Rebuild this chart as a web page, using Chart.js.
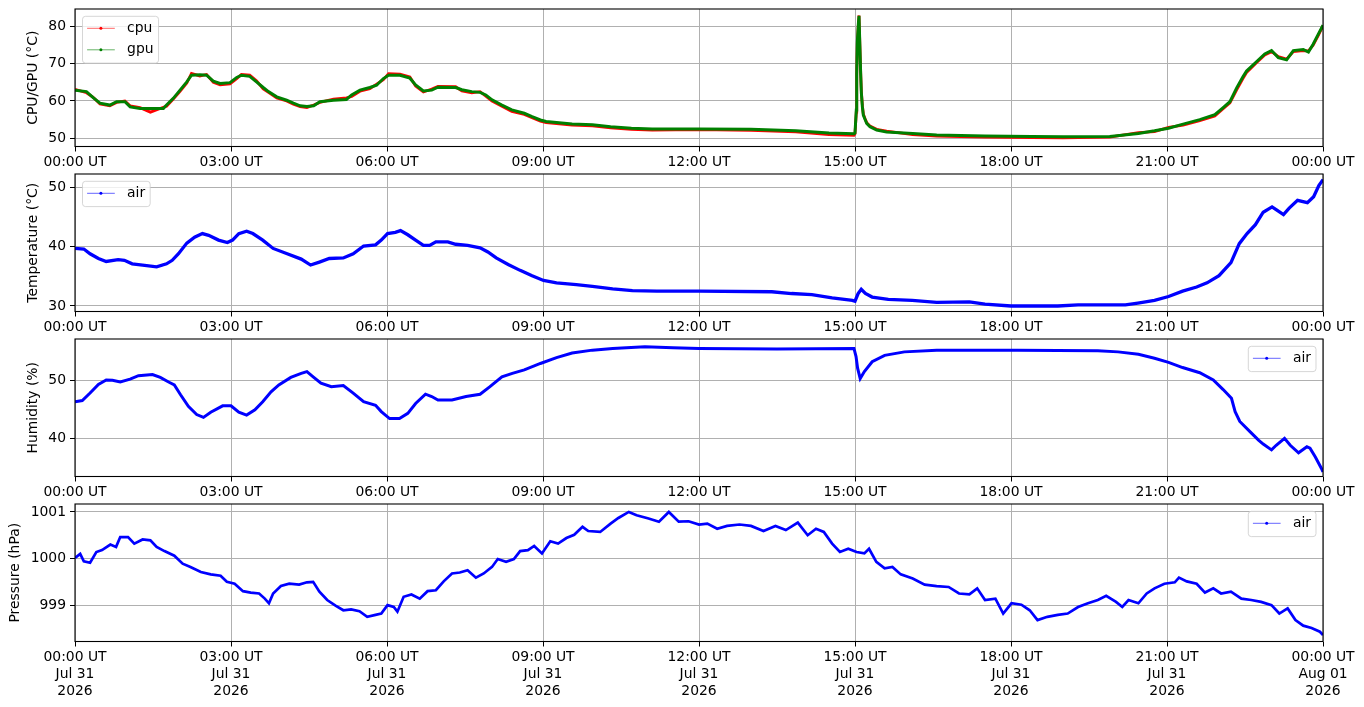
<!DOCTYPE html>
<html>
<head>
<meta charset="utf-8">
<script src="https://cdn.jsdelivr.net/npm/chart.js@4.4.1/dist/chart.umd.min.js"></script>
<style>
html,body{margin:0;padding:0;background:#fff;}
#wrap{position:relative;width:1364px;height:707px;overflow:hidden;background:#fff;}
#wrap canvas{position:absolute;left:0;top:0;}
</style>
</head>
<body>
<div id="wrap">
<canvas id="c0" width="1364" height="707"></canvas>
<canvas id="c1" width="1364" height="707"></canvas>
<canvas id="c2" width="1364" height="707"></canvas>
<canvas id="c3" width="1364" height="707"></canvas>
</div>
<script>
// ---------------- DATA ----------------
// x tick labels
const tickHours = [0, 3, 6, 9, 12, 15, 18, 21, 24];
const tickTimes = ['00:00 UT','03:00 UT','06:00 UT','09:00 UT','12:00 UT','15:00 UT','18:00 UT','21:00 UT','00:00 UT'];
const tickDates = ['Jul 31','Jul 31','Jul 31','Jul 31','Jul 31','Jul 31','Jul 31','Jul 31','Aug 01'];
const tickYears = ['2026','2026','2026','2026','2026','2026','2026','2026','2026'];

// CPU / GPU temperatures (hours since 00:00 UT)
const cgHours = [
  0.00,0.22,0.35,0.48,0.67,0.80,0.96,1.06,1.25,1.45,
  1.70,1.76,1.89,2.02,2.15,2.24,2.40,2.53,2.66,2.79,
  2.98,3.11,3.20,3.36,3.49,3.62,3.72,3.88,4.07,4.20,
  4.33,4.46,4.59,4.71,4.97,5.22,5.32,5.48,5.67,5.80,
  5.93,6.03,6.25,6.44,6.55,6.70,6.86,6.98,7.32,7.44,
  7.63,7.79,7.90,8.02,8.21,8.40,8.64,8.79,8.95,9.06,
  9.26,9.56,9.95,10.30,10.70,11.10,12.00,13.00,13.86,14.50,
  14.98,15.000,15.025,15.033,15.045,15.065,15.077,15.110,15.122,15.142,
  15.160,15.192,15.225,15.288,15.417,15.608,16.11,16.57,17.50,18.40,
  19.00,19.90,20.45,20.76,21.03,21.31,21.63,21.92,22.08,22.21,
  22.34,22.46,22.53,22.72,22.88,23.01,23.14,23.30,23.43,23.62,
  23.72,23.81,23.91,24.00
];
const gpuTemp = [
  62.9,62.5,60.9,59.4,58.9,59.8,59.8,58.4,58.0,58.0,
  58.0,58.9,60.7,62.9,65.1,66.9,67.0,66.9,65.3,64.7,
  64.9,66.3,66.9,66.6,65.1,63.6,62.5,61.1,60.2,59.4,
  58.7,58.5,58.7,59.8,60.2,60.4,61.6,62.9,63.6,64.2,
  66.0,66.9,66.9,66.1,64.3,62.7,62.9,63.7,63.6,63.0,
  62.5,62.3,61.6,60.3,58.9,57.6,56.7,55.8,54.9,54.5,
  54.2,53.8,53.6,53.1,52.7,52.5,52.5,52.4,52.0,51.4,
  51.2,51.4,57.6,67.2,75.9,80.8,82.8,66.9,62.2,58.4,
  56.2,55.1,54.0,53.1,52.2,51.7,51.3,50.9,50.6,50.5,
  50.4,50.5,51.3,52.0,52.7,53.8,55.0,56.3,58.2,59.8,
  63.5,66.5,68.0,70.5,72.6,73.5,71.6,71.0,73.5,73.8,
  73.1,75.2,77.9,80.3
];
const cpuTemp = [
  63.1,62.2,61.0,59.2,58.7,59.6,60.0,58.7,58.2,57.0,
  58.3,58.6,60.5,62.6,64.8,67.4,66.7,67.1,65.0,64.3,
  64.6,66.0,67.1,66.9,65.4,63.2,62.3,60.8,60.0,59.1,
  58.5,58.2,58.9,59.6,60.5,60.8,61.2,62.6,63.3,64.5,
  65.7,67.3,67.2,66.4,64.0,62.4,63.2,63.9,63.8,62.7,
  62.2,62.5,61.3,60.0,58.6,57.2,56.4,55.5,54.6,54.2,
  53.9,53.5,53.3,52.8,52.4,52.2,52.3,52.1,51.7,51.0,
  50.8,51.2,57.0,66.8,75.5,80.5,82.9,67.3,62.6,58.8,
  56.5,55.3,54.2,53.3,52.4,51.9,51.0,50.6,50.3,50.2,
  50.1,50.3,51.5,51.8,52.9,53.5,54.7,56.0,57.9,59.5,
  63.0,66.0,67.6,70.2,72.3,73.2,71.9,71.2,73.2,73.5,
  73.4,74.9,77.6,80.1
];

// Air temperature
const tempHours = [
  0.00,0.17,0.29,0.45,0.60,0.83,0.95,1.10,1.30,1.57,
  1.76,1.87,1.99,2.15,2.30,2.45,2.57,2.76,2.93,3.03,
  3.15,3.30,3.42,3.61,3.81,4.08,4.35,4.53,4.70,4.89,
  5.16,5.35,5.55,5.78,5.89,6.01,6.16,6.26,6.40,6.55,
  6.70,6.82,6.94,7.17,7.32,7.55,7.79,7.94,8.10,8.33,
  8.56,8.79,9.01,9.26,9.64,9.95,10.34,10.72,11.19,12.00,
  13.40,13.78,14.17,14.56,14.95,15.00,15.06,15.12,15.20,15.33,
  15.64,16.10,16.57,17.20,17.50,18.00,18.90,19.29,20.20,20.44,
  20.76,21.03,21.30,21.57,21.77,22.00,22.23,22.39,22.54,22.70,
  22.85,23.02,23.12,23.24,23.35,23.51,23.70,23.82,23.92,24.00
];
const airTemp = [
  39.7,39.6,38.8,38.0,37.5,37.8,37.7,37.1,36.9,36.6,
  37.1,37.7,38.8,40.6,41.6,42.2,41.9,41.1,40.7,41.1,
  42.2,42.6,42.2,41.1,39.7,38.8,37.9,36.9,37.4,38.0,
  38.1,38.8,40.1,40.3,41.1,42.2,42.4,42.7,42.0,41.1,
  40.2,40.2,40.8,40.8,40.4,40.2,39.8,39.1,38.1,37.0,
  36.0,35.1,34.3,33.9,33.6,33.3,32.9,32.6,32.5,32.5,
  32.4,32.1,31.9,31.35,30.95,30.8,32.1,32.8,32.1,31.5,
  31.1,30.95,30.6,30.7,30.3,30.0,30.0,30.2,30.2,30.5,
  30.95,31.6,32.5,33.2,33.9,35.1,37.3,40.5,42.2,43.7,
  45.8,46.7,46.1,45.4,46.5,47.8,47.4,48.4,50.3,51.3
];

// Air humidity
const humHours = [
  0.00,0.14,0.29,0.45,0.60,0.72,0.87,1.06,1.22,1.49,
  1.64,1.80,1.91,2.03,2.18,2.34,2.47,2.61,2.84,3.00,
  3.15,3.30,3.46,3.61,3.77,3.92,4.15,4.35,4.46,4.58,
  4.73,4.93,5.16,5.35,5.55,5.78,5.89,6.05,6.24,6.40,
  6.55,6.74,6.86,6.98,7.25,7.52,7.79,7.98,8.21,8.41,
  8.64,8.95,9.26,9.56,9.95,10.34,10.96,11.50,12.00,13.50,
  14.98,15.02,15.05,15.10,15.18,15.33,15.57,15.95,16.57,18.12,
  19.67,20.06,20.45,20.76,21.03,21.30,21.63,21.89,22.08,22.24,
  22.31,22.40,22.60,22.76,22.85,23.01,23.10,23.26,23.37,23.53,
  23.69,23.75,23.85,23.97,24.00
];
const airHumidity = [
  46.3,46.5,47.8,49.3,50.05,50.0,49.7,50.2,50.8,51.0,
  50.5,49.7,49.2,47.5,45.5,44.1,43.6,44.5,45.6,45.6,
  44.5,44.0,44.9,46.3,48.0,49.2,50.5,51.2,51.5,50.6,
  49.5,48.9,49.1,47.8,46.3,45.7,44.6,43.4,43.4,44.3,
  46.0,47.6,47.2,46.6,46.6,47.2,47.6,48.9,50.6,51.2,
  51.8,52.9,53.9,54.7,55.2,55.5,55.8,55.6,55.5,55.4,
  55.5,54.1,52.1,50.3,51.5,53.2,54.3,54.9,55.2,55.2,
  55.1,54.9,54.5,53.8,53.1,52.2,51.3,50.05,48.4,46.9,
  44.6,42.9,41.1,39.7,39.0,38.0,38.8,40.0,38.8,37.5,
  38.55,38.3,36.8,34.8,34.2
];

// Air pressure
const presHours = [
  0.00,0.10,0.17,0.29,0.41,0.52,0.68,0.79,0.87,1.02,
  1.14,1.30,1.45,1.57,1.72,1.91,2.07,2.22,2.42,2.61,
  2.80,2.92,3.07,3.23,3.38,3.54,3.65,3.73,3.81,3.96,
  4.12,4.31,4.46,4.58,4.70,4.85,5.01,5.16,5.31,5.47,
  5.62,5.78,5.89,6.01,6.13,6.20,6.32,6.47,6.63,6.78,
  6.94,7.09,7.25,7.40,7.55,7.71,7.86,8.02,8.13,8.29,
  8.44,8.56,8.71,8.83,8.98,9.14,9.29,9.45,9.60,9.76,
  9.87,10.10,10.30,10.45,10.65,10.80,11.03,11.23,11.42,11.61,
  11.80,12.00,12.16,12.35,12.54,12.78,13.00,13.24,13.47,13.67,
  13.90,14.09,14.25,14.40,14.56,14.71,14.87,15.03,15.18,15.27,
  15.41,15.57,15.72,15.88,16.11,16.34,16.57,16.80,17.00,17.20,
  17.35,17.50,17.70,17.85,18.01,18.20,18.36,18.51,18.70,18.90,
  19.09,19.29,19.48,19.67,19.83,20.02,20.14,20.26,20.45,20.61,
  20.76,20.95,21.15,21.23,21.38,21.57,21.73,21.89,22.04,22.23,
  22.43,22.62,22.81,23.01,23.16,23.32,23.47,23.62,23.78,23.94,
  24.00
];
const airPressure = [
  1000.01,1000.10,999.94,999.91,1000.14,1000.18,1000.30,1000.25,1000.46,1000.46,
  1000.32,1000.41,1000.39,1000.25,1000.16,1000.06,999.89,999.82,999.71,999.66,
  999.63,999.50,999.46,999.30,999.27,999.25,999.14,999.04,999.25,999.41,
  999.46,999.44,999.49,999.50,999.29,999.11,998.99,998.89,998.91,998.87,
  998.75,998.79,998.82,999.00,998.96,998.86,999.18,999.23,999.14,999.30,
  999.32,999.51,999.68,999.70,999.75,999.59,999.68,999.82,999.99,999.93,
  999.99,1000.16,1000.18,1000.27,1000.11,1000.37,1000.32,1000.44,1000.51,1000.68,
  1000.59,1000.57,1000.75,1000.87,1001.00,1000.93,1000.86,1000.79,1001.00,1000.79,
  1000.80,1000.73,1000.75,1000.64,1000.70,1000.73,1000.70,1000.59,1000.70,1000.61,
  1000.77,1000.50,1000.64,1000.57,1000.32,1000.14,1000.21,1000.14,1000.11,1000.21,
  999.93,999.79,999.82,999.66,999.57,999.44,999.41,999.39,999.25,999.23,
  999.36,999.11,999.14,998.82,999.04,999.01,998.89,998.68,998.75,998.79,
  998.82,998.96,999.04,999.11,999.20,999.07,998.96,999.11,999.04,999.25,
  999.36,999.46,999.49,999.59,999.51,999.46,999.27,999.36,999.25,999.29,
  999.14,999.11,999.07,999.00,998.82,998.93,998.68,998.56,998.51,998.43,
  998.36
];

// ---------------- RENDERING ----------------
const FONT = '"DejaVu Sans", "Liberation Sans", sans-serif';
const FS = 13.9;
Chart.defaults.font.family = FONT;
Chart.defaults.font.size = FS;
Chart.defaults.color = '#000';

function pts(xs, ys) { return xs.map((x, i) => ({ x: x, y: ys[i] })); }

const mplPlugin = {
  id: 'mpl',
  afterDraw(chart, args, opts) {
    const ctx = chart.ctx, a = chart.chartArea;
    ctx.save();
    // full axes frame
    ctx.strokeStyle = '#000';
    ctx.lineWidth = 1.1;
    ctx.strokeRect(a.left, a.top, a.right - a.left, a.bottom - a.top);
    // legend
    const items = opts.items || [];
    ctx.font = FS + 'px ' + FONT;
    let tw = 0;
    items.forEach(it => { tw = Math.max(tw, ctx.measureText(it.label).width); });
    const boxW = 44.6 + tw + 5;
    const rowH = 21.5;
    const boxH = 3.8 + items.length * rowH;
    const bx = opts.corner === 'right' ? a.right - 7 - boxW : a.left + 7.5;
    const by = a.top + 7.3;
    const r = 3;
    ctx.beginPath();
    ctx.moveTo(bx + r, by);
    ctx.lineTo(bx + boxW - r, by);
    ctx.arcTo(bx + boxW, by, bx + boxW, by + r, r);
    ctx.lineTo(bx + boxW, by + boxH - r);
    ctx.arcTo(bx + boxW, by + boxH, bx + boxW - r, by + boxH, r);
    ctx.lineTo(bx + r, by + boxH);
    ctx.arcTo(bx, by + boxH, bx, by + boxH - r, r);
    ctx.lineTo(bx, by + r);
    ctx.arcTo(bx, by, bx + r, by, r);
    ctx.closePath();
    ctx.fillStyle = 'rgba(255,255,255,0.8)';
    ctx.fill();
    ctx.strokeStyle = 'rgba(204,204,204,0.8)';
    ctx.lineWidth = 1;
    ctx.stroke();
    items.forEach((it, i) => {
      const cy = by + 12 + i * rowH;
      ctx.globalAlpha = 0.6;
      ctx.strokeStyle = it.color;
      ctx.lineWidth = 1;
      ctx.beginPath();
      ctx.moveTo(bx + 4.6, cy);
      ctx.lineTo(bx + 32.3, cy);
      ctx.stroke();
      ctx.globalAlpha = 1;
      ctx.fillStyle = it.color;
      ctx.beginPath();
      ctx.arc(bx + 18.4, cy, 1.5, 0, Math.PI * 2);
      ctx.fill();
      ctx.fillStyle = '#000';
      ctx.textBaseline = 'middle';
      ctx.textAlign = 'left';
      ctx.fillText(it.label, bx + 44.6, cy);
    });
    ctx.restore();
  }
};

const PANEL_H = 137.5;
const panels = [
  { id: 'c0', top: 9, yMin: 47.80, yMax: 84.63, yStep: 10, yTitle: 'CPU/GPU (°C)', titlePad: 25.5,
    xh: 30, dates: false, corner: 'left',
    legend: [{ label: 'cpu', color: '#ff0000' }, { label: 'gpu', color: '#008000' }],
    datasets: [
      { data: pts(cgHours, cpuTemp), borderColor: '#ff0000', borderWidth: 2.8, order: 1 },
      { data: pts(cgHours, gpuTemp), borderColor: '#008000', borderWidth: 3.0, order: 0 }
    ] },
  { id: 'c1', top: 174, yMin: 29.07, yMax: 52.24, yStep: 10, yTitle: 'Temperature (°C)', titlePad: 25.5,
    xh: 30, dates: false, corner: 'left',
    legend: [{ label: 'air', color: '#0000ff' }],
    datasets: [{ data: pts(tempHours, airTemp), borderColor: '#0000ff', borderWidth: 3.3 }] },
  { id: 'c2', top: 339, yMin: 33.41, yMax: 57.12, yStep: 10, yTitle: 'Humidity (%)', titlePad: 25.5,
    xh: 30, dates: false, corner: 'right',
    legend: [{ label: 'air', color: '#0000ff' }],
    datasets: [{ data: pts(humHours, airHumidity), borderColor: '#0000ff', borderWidth: 3.0 }] },
  { id: 'c3', top: 504, yMin: 998.22, yMax: 1001.17, yStep: 1, yTitle: 'Pressure (hPa)', titlePad: 7.5,
    xh: 60, dates: true, corner: 'right',
    legend: [{ label: 'air', color: '#0000ff' }],
    datasets: [{ data: pts(presHours, airPressure), borderColor: '#0000ff', borderWidth: 2.7 }] }
];

panels.forEach(p => {
  const bottom = p.top + PANEL_H;
  p.datasets.forEach(d => { d.pointRadius = 0; d.fill = false; d.tension = 0; });
  new Chart(document.getElementById(p.id), {
    type: 'line',
    data: { datasets: p.datasets },
    options: {
      responsive: false,
      animation: false,
      events: [],
      layout: { padding: { left: 0, right: 41, top: p.top, bottom: 707 - bottom - p.xh } },
      plugins: {
        legend: { display: false },
        tooltip: { enabled: false },
        mpl: { items: p.legend, corner: p.corner }
      },
      scales: {
        x: {
          type: 'linear', min: 0, max: 24,
          afterFit(s) { s.height = p.xh; s.paddingLeft = 0; s.paddingRight = 0; },
          grid: { color: '#b0b0b0', lineWidth: 1, tickColor: '#000', tickLength: 5, tickWidth: 1 },
          border: { display: false },
          ticks: {
            stepSize: 3, autoSkip: false, maxRotation: 0, minRotation: 0, padding: 3,
            color: '#000', font: { family: FONT, size: FS },
            callback: (v) => {
              const i = tickHours.indexOf(v);
              if (i < 0) return '';
              return p.dates ? [tickTimes[i], tickDates[i], tickYears[i]] : tickTimes[i];
            }
          }
        },
        y: {
          type: 'linear', min: p.yMin, max: p.yMax,
          afterFit(s) { s.width = 75; s.paddingTop = 0; s.paddingBottom = 0; },
          grid: { color: '#b0b0b0', lineWidth: 1, tickColor: '#000', tickLength: 5, tickWidth: 1 },
          border: { display: false },
          ticks: {
            stepSize: p.yStep, includeBounds: false, padding: 4, color: '#000',
            font: { family: FONT, size: FS },
            callback: (v) => String(v)
          },
          title: {
            display: true, text: p.yTitle, color: '#000',
            font: { family: FONT, size: FS },
            padding: { top: p.titlePad, bottom: 0 }
          }
        }
      }
    },
    plugins: [mplPlugin]
  });
});
</script>
</body>
</html>
